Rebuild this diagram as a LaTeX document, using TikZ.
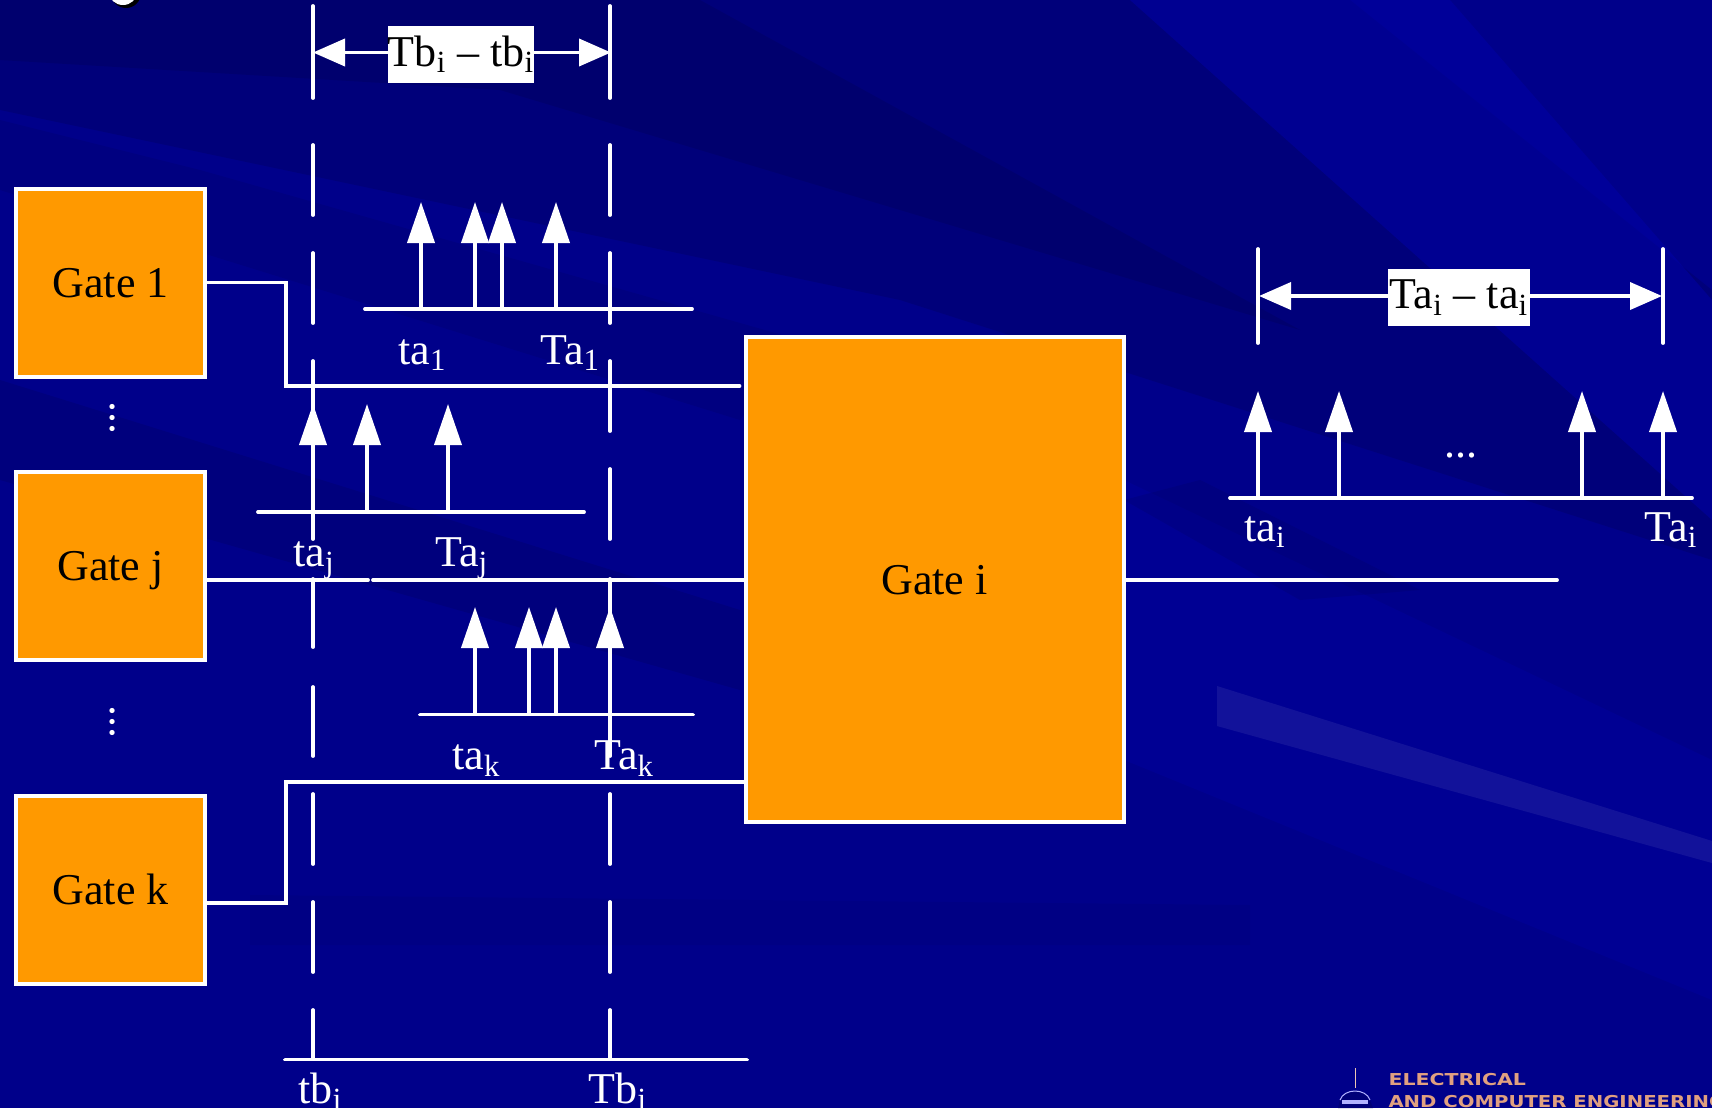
\documentclass[tikz,border=0pt]{standalone}
\usepackage{fontspec}
\setmainfont{Liberation Serif}
\newfontfamily\logofont{DejaVu Sans}
\usepackage{xcolor}
\usetikzlibrary{arrows.meta, positioning}
\definecolor{bgbase}{HTML}{00008A}
\definecolor{bgdark}{HTML}{000058}
\definecolor{bglight}{HTML}{0000A8}
\definecolor{gateorange}{HTML}{FF9900}
\definecolor{logotext}{HTML}{E0A080}
\tikzstyle{gate} = [draw=white,line width=2pt,fill=gateorange,text=black,minimum width=94.5pt,minimum height=94pt,inner sep=0pt,text height=14.5pt,text depth=0pt]
\tikzstyle{wire} = [draw=white,line width=1.9pt,line cap=round]
\tikzstyle{pulse} = [wire,-{Triangle[length=20.5pt,width=13.5pt]},white]
\tikzstyle{span} = [wire,-{Triangle[length=16pt,width=13.5pt]},white]
\tikzstyle{spanbox} = [fill=white,text=black,inner sep=0pt,minimum width=73pt,minimum height=28.5pt]
\tikzstyle{lbl} = [text=white,anchor=base west,inner sep=0pt]

\begin{document}
\begin{tikzpicture}[x=0.5pt,y=-0.5pt,font=\fontsize{22}{26}\selectfont]
    \useasboundingbox (0,0) rectangle (1712,1108);

    % background
    \fill[bgbase] (0,0) rectangle (1712,1108);
    \fill[bgdark,opacity=.3] (0,0) -- (1350,0) -- (1712,290) -- (1712,560) -- (900,300) -- (0,110) -- cycle;
    \fill[bgdark,opacity=.35] (0,0) -- (700,0) -- (1300,330) -- (500,90) -- (0,60) -- cycle;
    \fill[bgdark,opacity=.2] (200,170) -- (800,340) -- (740,420) -- (0,190) -- (0,120) -- cycle;
    \fill[bgdark,opacity=.25] (0,380) -- (740,610) -- (740,690) -- (0,480) -- cycle;
    \fill[bgdark,opacity=.1] (250,895) -- (1250,905) -- (1250,945) -- (250,945) -- cycle;
    \fill[bglight,opacity=.5] (1130,0) -- (1450,0) -- (1712,300) -- (1712,520) -- cycle;
    \fill[bglight,opacity=.3] (1124,480) -- (1712,760) -- (1712,1000) -- (1124,760) -- cycle;
    \fill[bgdark,opacity=.2] (1200,480) -- (1420,590) -- (1300,600) -- (1124,500) -- cycle;
    \fill[white,opacity=.07] (1217,686) -- (1712,841) -- (1712,863) -- (1217,726) -- cycle;

    % title remainder
    \fill[black] (126,-7) ellipse (15 and 15);
    \fill[white] (123,-8) ellipse (14 and 13);
    \fill[bgbase!70!white] (123,-8) ellipse (7 and 8);

    % gates
    \node[gate] (g1) at (110.5,282.5) {Gate 1};
    \node[gate] (gj) at (110.5,566) {Gate j};
    \node[gate] (gk) at (110.5,890) {Gate k};
    \node[gate,minimum width=189pt,minimum height=242.5pt] (gi) at (934.5,579.5) {Gate i};
    \node[text=white,rotate=90] (d1) at (113,418) {...};
    \node[text=white,rotate=90] (d2) at (113,722) {...};

    % time lines
    \foreach \ya/\yb in {6/98,145/215,253/323,361/431,469/539,579/647,687/756,794/864,902/972,1010/1059}{
        \draw[wire] (313,\ya) -- (313,\yb);
        \draw[wire] (610,\ya) -- (610,\yb);
    }

    % wires
    \coordinate (w1) at (286,386);
    \coordinate (wk) at (286,782);
    \coordinate (wk0) at (206,903);
    \coordinate (wja) at (368,580);
    \coordinate (wjb) at (373,580);
    \coordinate (out) at (1557,580);
    \draw[wire] (g1.east) -| (w1) -- ([xshift=-2pt]gi.west |- w1);
    \draw[wire] (wk0) -| (wk) -- (gi.west |- wk);
    \draw[wire] (gj.east |- wja) -- (wja);
    \draw[wire] (wjb) -- (gi.west |- wjb);
    \draw[wire] (gi.east |- out) -- (out);

    % axes
    \coordinate (a1l) at (365,309);
    \coordinate (a1r) at (692,309);
    \coordinate (ajl) at (258,512);
    \coordinate (ajr) at (584,512);
    \coordinate (akl) at (420,714.5);
    \coordinate (akr) at (693,714.5);
    \coordinate (ail) at (1230,498);
    \coordinate (air) at (1692,498);
    \coordinate (bl) at (285,1059.5);
    \coordinate (br) at (747,1059.5);
    \draw[wire] (a1l) -- (a1r);
    \draw[wire] (ajl) -- (ajr);
    \draw[wire] (akl) -- (akr);
    \draw[wire] (ail) -- (air);
    \draw[wire] (bl) -- (br);

    % pulses
    \foreach \x in {421,475,502,556} \draw[pulse] (\x,309) -- (\x,202);
    \foreach \x in {313,367,448} \draw[pulse] (\x,512) -- (\x,404);
    \foreach \x in {475,529,556,610} \draw[pulse] (\x,714) -- (\x,607);
    \foreach \x in {1258,1339,1582,1663} \draw[pulse] (\x,498) -- (\x,391);
    \node[text=white] (more) at (1461,456) {...};

    % labels
    \node[lbl] (ta1) at (398,364) {ta\textsubscript{1}};
    \node[lbl] (Ta1) at (540,364) {Ta\textsubscript{1}};
    \node[lbl] (taj) at (293,566) {ta\textsubscript{j}};
    \node[lbl] (Taj) at (435,566) {Ta\textsubscript{j}};
    \node[lbl] (tak) at (452,769) {ta\textsubscript{k}};
    \node[lbl] (Tak) at (594,769) {Ta\textsubscript{k}};
    \node[lbl] (tai) at (1244,541) {ta\textsubscript{i}};
    \node[lbl] (Tai) at (1644,541) {Ta\textsubscript{i}};
    \node[lbl] (tbj) at (298,1103) {tb\textsubscript{j}};
    \node[lbl] (Tbj) at (588,1103) {Tb\textsubscript{j}};

    % spans
    \coordinate (sbl) at (313,52.5);
    \coordinate (sbr) at (611,52.5);
    \node[spanbox] (sb) at (461,54.5) {Tb\textsubscript{i} -- tb\textsubscript{i}};
    \draw[span] (sb.west |- sbl) -- (sbl);
    \draw[span] (sb.east |- sbr) -- (sbr);
    \coordinate (sal) at (1259,296);
    \coordinate (sar) at (1662,296);
    \coordinate (tl1) at (1258,249);
    \coordinate (tl2) at (1258,343);
    \coordinate (tr1) at (1663,249);
    \coordinate (tr2) at (1663,343);
    \draw[wire] (tl1) -- (tl2);
    \draw[wire] (tr1) -- (tr2);
    \node[spanbox,minimum width=71pt] (sa) at (1459,297.5) {Ta\textsubscript{i} -- ta\textsubscript{i}};
    \draw[span] (sa.west |- sal) -- (sal);
    \draw[span] (sa.east |- sar) -- (sar);

    % logo
    \draw[line width=.5pt,logotext!60!white] (1355,1068) -- (1355,1088);
    \fill[bgdark!60!bglight] (1338,1108) -- (1340,1100) .. controls (1344,1088) and (1366,1088) .. (1370,1100) -- (1373,1108) -- cycle;
    \draw[line width=.5pt,white!70!blue] (1340,1100) .. controls (1344,1088) and (1366,1088) .. (1370,1100);
    \fill[white!70!blue] (1342,1100) rectangle (1368,1104);
    \node[text=logotext,anchor=base west,inner sep=0pt,xscale=1.25,font=\logofont\fontsize{8.2}{10}\selectfont\bfseries] (logoa) at (1388,1085) {ELECTRICAL};
    \node[text=logotext,anchor=base west,inner sep=0pt,xscale=1.2,font=\logofont\fontsize{8.2}{10}\selectfont\bfseries] (logob) at (1388,1107) {AND COMPUTER ENGINEERING};
\end{tikzpicture}
\end{document}
